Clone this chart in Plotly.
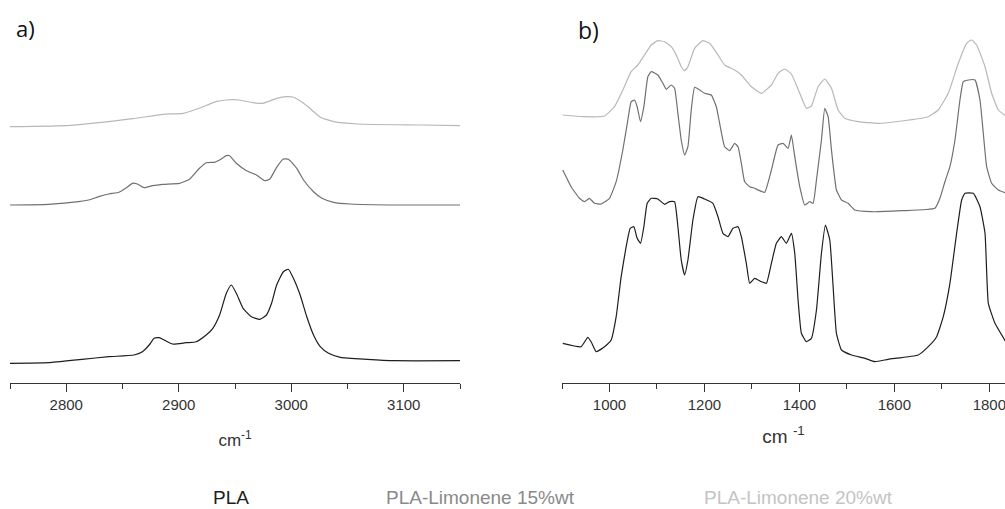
import plotly.graph_objects as go

# ---------------- Panel a) C-H stretching region ----------------
wn_a_pla = [2749, 2784.2, 2814.0, 2837.9, 2860.2, 2867.7, 2873.7, 2878.1, 2882.6, 2887.1,
            2894.5, 2906.5, 2915.4, 2924.4, 2930.3, 2936.3, 2942.3, 2946.7, 2951.2, 2957.2,
            2964.6, 2972.1, 2978.0, 2982.5, 2987.0, 2993.0, 2997.4, 3001.9, 3007.9, 3013.8,
            3019.8, 3025.8, 3033.2, 3043.7, 3067.5, 3091.4, 3151]
ab_a_pla = [0.197, 0.203, 0.237, 0.263, 0.280, 0.313, 0.380, 0.447, 0.453, 0.430,
            0.390, 0.403, 0.413, 0.480, 0.547, 0.680, 0.897, 0.980, 0.897, 0.747,
            0.663, 0.637, 0.680, 0.797, 0.980, 1.113, 1.137, 1.047, 0.880, 0.663,
            0.480, 0.363, 0.297, 0.257, 0.237, 0.223, 0.223]

wn_a_15 = [2749, 2784.2, 2811.0, 2820.0, 2828.9, 2837.9, 2846.8, 2852.8, 2858.8, 2863.2,
           2869.2, 2876.6, 2885.6, 2900.5, 2909.5, 2918.4, 2924.4, 2931.8, 2936.3, 2942.3,
           2945.2, 2951.2, 2960.2, 2969.1, 2976.6, 2981.0, 2987.0, 2993.0, 2997.4, 3004.9,
           3010.9, 3019.8, 3027.3, 3037.7, 3052.6, 3094.4, 3151]
ab_a_15 = [1.780, 1.787, 1.813, 1.830, 1.863, 1.890, 1.907, 1.947, 1.997, 1.990,
           1.953, 1.973, 1.987, 1.997, 2.037, 2.147, 2.203, 2.207, 2.230, 2.273,
           2.273, 2.197, 2.123, 2.080, 2.023, 2.040, 2.157, 2.240, 2.237, 2.147,
           2.030, 1.913, 1.847, 1.807, 1.790, 1.780, 1.780]

wn_a_20 = [2749, 2804, 2859, 2886, 2904, 2918, 2933, 2942, 2954, 2966,
           2975, 2987, 2996, 3002, 3011, 3020, 3026, 3038, 3059, 3115, 3151]
ab_a_20 = [2.563, 2.577, 2.643, 2.687, 2.697, 2.747, 2.813, 2.830, 2.830, 2.803,
           2.797, 2.847, 2.863, 2.857, 2.797, 2.713, 2.657, 2.613, 2.590, 2.580, 2.573]

# ---------------- Panel b) fingerprint region ----------------
wn_b_pla = [901.6, 940.2, 954.3, 961.3, 971.9, 989.5, 1003.5, 1014.1, 1024.6, 1035.1,
            1043.6, 1051.3, 1058.3, 1065.4, 1072.4, 1079.4, 1087.9, 1101.9, 1116.0, 1126.5,
            1137.1, 1144.1, 1151.1, 1158.2, 1165.2, 1175.7, 1186.3, 1200.4, 1217.9, 1228.5,
            1239.0, 1249.6, 1260.1, 1270.7, 1277.7, 1288.2, 1295.3, 1305.8, 1319.9, 1330.4,
            1341.0, 1351.5, 1362.0, 1372.6, 1383.1, 1390.2, 1397.2, 1404.2, 1414.8, 1425.3,
            1435.9, 1446.4, 1454.8, 1464.0, 1471.0, 1478.0, 1488.6, 1509.7, 1537.8, 1558.9,
            1587.0, 1650.3, 1671.4, 1689.0, 1703.0, 1717.0, 1731.1, 1741.7, 1748.7, 1766.3,
            1780.3, 1790.9, 1797.9, 1811.9, 1836.6]
ab_b_pla = [0.397, 0.363, 0.457, 0.413, 0.313, 0.363, 0.430, 0.663, 1.063, 1.363,
            1.547, 1.563, 1.447, 1.397, 1.563, 1.797, 1.847, 1.840, 1.787, 1.813,
            1.813, 1.563, 1.230, 1.080, 1.230, 1.630, 1.863, 1.840, 1.797, 1.663,
            1.497, 1.463, 1.547, 1.563, 1.463, 1.197, 0.997, 1.047, 1.013, 0.997,
            1.197, 1.397, 1.463, 1.397, 1.497, 1.297, 0.830, 0.497, 0.413, 0.447,
            0.730, 1.297, 1.580, 1.430, 0.963, 0.497, 0.330, 0.280, 0.247, 0.213,
            0.237, 0.280, 0.363, 0.463, 0.663, 0.997, 1.497, 1.830, 1.897, 1.897,
            1.763, 1.497, 0.797, 0.597, 0.397]

wn_b_15 = [901.6, 919.2, 936.7, 947.3, 957.8, 968.4, 982.4, 1000.0, 1014.1, 1028.1,
           1038.7, 1045.7, 1052.7, 1058.3, 1065.4, 1072.4, 1080.8, 1087.9, 1101.9, 1112.5,
           1119.5, 1130.1, 1137.1, 1144.1, 1151.1, 1158.2, 1165.2, 1172.2, 1179.3, 1189.8,
           1200.4, 1214.4, 1225.0, 1232.0, 1242.5, 1253.1, 1263.6, 1270.7, 1277.7, 1284.7,
           1295.3, 1305.8, 1312.8, 1326.9, 1341.0, 1355.0, 1365.6, 1376.1, 1383.1, 1390.2,
           1400.7, 1411.2, 1421.8, 1428.8, 1435.9, 1446.4, 1453.4, 1460.5, 1467.5, 1478.0,
           1488.6, 1502.6, 1516.7, 1551.8, 1615.1, 1685.4, 1696.0, 1706.5, 1717.0, 1727.6,
           1738.1, 1745.2, 1755.7, 1769.8, 1780.3, 1787.3, 1794.4, 1804.9, 1819.0, 1836.6]
ab_b_15 = [2.130, 1.963, 1.847, 1.813, 1.847, 1.797, 1.790, 1.847, 2.013, 2.330,
           2.630, 2.813, 2.830, 2.763, 2.613, 2.763, 3.063, 3.113, 3.080, 2.997,
           2.937, 2.980, 2.947, 2.697, 2.430, 2.280, 2.363, 2.730, 2.957, 2.930,
           2.897, 2.880, 2.763, 2.597, 2.363, 2.323, 2.397, 2.363, 2.197, 2.013,
           1.963, 1.947, 1.930, 1.907, 2.130, 2.380, 2.397, 2.347, 2.480, 2.263,
           1.963, 1.780, 1.813, 1.797, 2.030, 2.430, 2.747, 2.663, 2.330, 1.930,
           1.830, 1.797, 1.730, 1.713, 1.723, 1.747, 1.847, 2.013, 2.163, 2.430,
           2.830, 3.013, 3.030, 3.030, 2.830, 2.497, 2.163, 1.997, 1.930, 1.897]

wn_b_20 = [901.6, 947.3, 989.5, 1010.5, 1028.1, 1045.7, 1059.8, 1073.8, 1087.9, 1101.9,
           1116.0, 1130.1, 1140.6, 1151.1, 1158.2, 1165.2, 1179.3, 1196.8, 1210.9, 1228.5,
           1242.5, 1263.6, 1277.7, 1298.8, 1319.9, 1341.0, 1355.0, 1369.1, 1383.1, 1400.7,
           1414.8, 1425.3, 1439.4, 1453.4, 1467.5, 1481.5, 1495.6, 1523.7, 1565.9, 1615.1,
           1671.4, 1692.4, 1713.5, 1734.6, 1752.2, 1762.7, 1773.3, 1790.9, 1804.9, 1819.0,
           1836.6]
ab_b_20 = [2.680, 2.663, 2.670, 2.763, 2.930, 3.113, 3.180, 3.280, 3.380, 3.423,
           3.413, 3.363, 3.280, 3.163, 3.123, 3.163, 3.347, 3.423, 3.397, 3.280,
           3.180, 3.130, 3.080, 2.963, 2.897, 2.980, 3.097, 3.140, 3.090, 2.897,
           2.747, 2.770, 2.963, 3.040, 2.947, 2.730, 2.647, 2.613, 2.597, 2.620,
           2.663, 2.730, 2.897, 3.197, 3.397, 3.430, 3.380, 3.163, 2.897, 2.730,
           2.663]

series_names = ["PLA", "PLA-Limonene 15%wt", "PLA-Limonene 20%wt"]
line_colors = ["#1e1e1e", "#707070", "#b8b8b8"]
label_colors = ["#1e1e1e", "#8a8a8a", "#c4c4c4"]

a_data = [(wn_a_pla, ab_a_pla), (wn_a_15, ab_a_15), (wn_a_20, ab_a_20)]
b_data = [(wn_b_pla, ab_b_pla), (wn_b_15, ab_b_15), (wn_b_20, ab_b_20)]

fig = go.Figure()
for (x, y), name, col in zip(a_data, series_names, line_colors):
    fig.add_trace(go.Scatter(x=x, y=y, mode="lines", name=name,
                             line=dict(color=col, width=1.2, shape="spline", smoothing=0.5),
                             xaxis="x", yaxis="y", showlegend=False))
for (x, y), name, col in zip(b_data, series_names, line_colors):
    fig.add_trace(go.Scatter(x=x, y=y, mode="lines", name=name,
                             line=dict(color=col, width=1.2, shape="spline", smoothing=0.4),
                             xaxis="x2", yaxis="y2", showlegend=False))

W, H = 1005, 509
ydom = [(H - 383) / H, 1.0]

tick_font = dict(family="Arial, Liberation Sans, sans-serif", size=15, color="#333")
common_x = dict(showgrid=False, zeroline=False, showline=True, linecolor="#333",
                linewidth=1, ticks="outside", ticklen=8, tickcolor="#333",
                tickfont=tick_font, ticklabeloverflow="allow")
common_y = dict(visible=False, showgrid=False, zeroline=False, range=[0, 3.83], domain=ydom)

fig.update_layout(
    width=W, height=H,
    margin=dict(l=0, r=0, t=0, b=0),
    paper_bgcolor="white", plot_bgcolor="white",
    xaxis=dict(domain=[10 / W, 460 / W], range=[2750, 3150], tick0=2800, dtick=100,
               minor=dict(ticks="outside", ticklen=5, dtick=50, tick0=2750, tickcolor="#333"),
               title=dict(text="cm<sup>-1</sup>", standoff=22,
                          font=dict(family="Arial, Liberation Sans, sans-serif", size=17, color="#333")),
               anchor="y", **common_x),
    xaxis2=dict(domain=[562 / W, 1.0], range=[900, 1833], tick0=1000, dtick=200,
                minor=dict(ticks="outside", ticklen=5, dtick=100, tick0=900, tickcolor="#333"),
                title=dict(text="cm <sup>-1</sup>", standoff=17,
                           font=dict(family="Arial, Liberation Sans, sans-serif", size=19, color="#333")),
                anchor="y2", **common_x),
    yaxis=dict(anchor="x", **common_y),
    yaxis2=dict(anchor="x2", **common_y),
)

# panel letters
fig.add_annotation(text="a)", x=14 / W, y=1 - 28 / H, xref="paper", yref="paper",
                   xanchor="left", yanchor="middle", showarrow=False,
                   font=dict(family="Open Sans, Noto Sans, sans-serif", size=22, color="#111"))
fig.add_annotation(text="b)", x=576 / W, y=1 - 30 / H, xref="paper", yref="paper",
                   xanchor="left", yanchor="middle", showarrow=False,
                   font=dict(family="Open Sans, Noto Sans, sans-serif", size=23, color="#111"))

# legend labels as coloured text along the bottom
legend_x = [212, 385, 703]
for name, col, lx in zip(series_names, label_colors, legend_x):
    fig.add_annotation(text=name, x=lx / W, y=0, xref="paper", yref="paper",
                       xanchor="left", yanchor="bottom", showarrow=False, borderpad=0,
                       font=dict(family="Arial, Liberation Sans, sans-serif",
                                 size=19, color=col))

# remove the default page margin so the figure sits at the window's top-left corner
fig.write_html("out.html",
               config={"displayModeBar": False},
               post_script="document.body.style.margin='0';document.body.style.overflow='hidden';")
